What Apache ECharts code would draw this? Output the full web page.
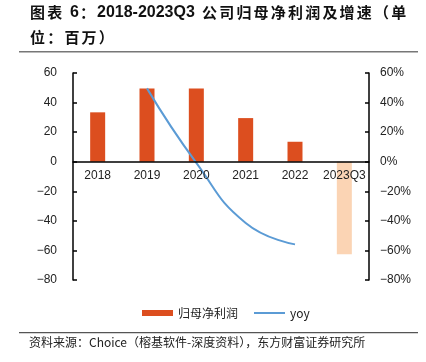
<!DOCTYPE html>
<html><head><meta charset="utf-8">
<script src="https://cdn.jsdelivr.net/npm/echarts@6/dist/echarts.min.js"></script>
<style>html,body{margin:0;padding:0;background:#fff}#c{width:426px;height:362px}</style>
</head><body><div id="c"></div>
<script>
const categories = ['2018','2019','2020','2021','2022','2023Q3'];
const netProfit = [33.4, 49.6, 49.6, 29.5, 13.5, -62.6];
const yoy = [null, 49.6, -0.8, -41.4, -55.9, null];
const leftTicks = [-80, -60, -40, -20, 0, 20, 40, 60];
const rightTicks = ['−80%','−60%','−40%','−20%','0%','20%','40%','60%'];

const W = 426, H = 362;
const grid = {left:73, right:57, top:73, bottom:82};
const yMin = leftTicks[0], yMax = leftTicks[leftTicks.length-1];
const gridH = H - grid.top - grid.bottom;
// distance from the grid bottom up to the zero line, so x labels sit under the zero axis
const zeroOffset = -gridH * (0 - yMin) / (yMax - yMin);

const chart = echarts.init(document.getElementById('c'));
const tickFont = {fontFamily:'Liberation Sans', fontSize:12, color:'#222'};

const graphics = [];
const cjkFont = 'bold 15px "Noto Sans CJK SC"';
function chars(str, x0, top, step){
  for (let i=0;i<str.length;i++){
    graphics.push({type:'text', left:x0+i*step, top:top, style:{text:str[i], font:cjkFont, fill:'#111'}});
  }
}
chars('图表', 30, 5, 17.2);
graphics.push({type:'text', left:70, top:5, style:{text:'6', font:'bold 16px "Liberation Sans"', fill:'#111'}});
graphics.push({type:'text', left:80, top:5, style:{text:'：', font:cjkFont, fill:'#111'}});
graphics.push({type:'text', left:97, top:5, style:{text:'2018-2023Q3', font:'bold 16px "Liberation Sans"', fill:'#111'}});
chars('公司归母净利润及增速（单', 202, 5, 17.2);
chars('位：百万）', 30, 30, 17.2);
graphics.push({type:'rect', shape:{x:19, y:51, width:399, height:1.5}, style:{fill:'#777'}});
graphics.push({type:'rect', shape:{x:19, y:332, width:399, height:1.2}, style:{fill:'#555'}});
graphics.push({type:'text', left:29, top:336, style:{text:'资料来源：Choice（榕基软件-深度资料），东方财富证券研究所', font:'12px "Noto Sans CJK SC"', fill:'#222'}});

chart.setOption({
  animation:false,
  textStyle:{fontFamily:'Liberation Sans'},
  grid:grid,
  legend:{
    top:302, left:137, itemGap:15,
    textStyle:{fontFamily:'Noto Sans CJK SC', fontSize:12, color:'#222'},
    data:[
      {name:'归母净利润', icon:'rect', itemStyle:{color:'#DC4E1F'}},
      {name:'yoy', itemStyle:{color:'rgba(0,0,0,0)', borderColor:'rgba(0,0,0,0)', borderWidth:0}, lineStyle:{color:'#5B9BD5', width:2}}
    ],
    itemWidth:31, itemHeight:6
  },
  xAxis:{
    type:'category', data:categories, z:10,
    offset:zeroOffset,
    axisLine:{onZero:false, lineStyle:{color:'#000', width:1.5}},
    axisTick:{show:false},
    axisLabel:Object.assign({margin:8, interval:0}, tickFont)
  },
  yAxis:[
    {type:'value', min:yMin, max:yMax, interval:20,
     splitLine:{show:false},
     axisLine:{show:true, lineStyle:{color:'#000', width:1.5}},
     axisTick:{show:true, inside:true, length:4, lineStyle:{color:'#000', width:1.5}},
     axisLabel:Object.assign({margin:16, formatter:function(v){return String(v).replace('-','−');}}, tickFont)},
    {type:'value', min:yMin, max:yMax, interval:20, position:'right',
     splitLine:{show:false},
     axisLine:{show:true, lineStyle:{color:'#000', width:1.5}},
     axisTick:{show:true, inside:true, length:4, lineStyle:{color:'#000', width:1.5}},
     axisLabel:Object.assign({margin:11, formatter:function(v){return rightTicks[leftTicks.indexOf(v)] || (v+'%');}}, tickFont)}
  ],
  series:[
    {name:'归母净利润', type:'bar', barWidth:15, yAxisIndex:0,
     itemStyle:{color:'#DC4E1F'},
     data:netProfit.map((v,i)=> i===netProfit.length-1 ? {value:v, itemStyle:{color:'#FBD4B4'}} : v)},
    {name:'yoy', type:'line', yAxisIndex:1, smooth:true, symbol:'none', connectNulls:false,
     lineStyle:{color:'#5B9BD5', width:2}, itemStyle:{color:'#5B9BD5'},
     data:yoy}
  ],
  graphic:graphics
});
</script></body></html>
